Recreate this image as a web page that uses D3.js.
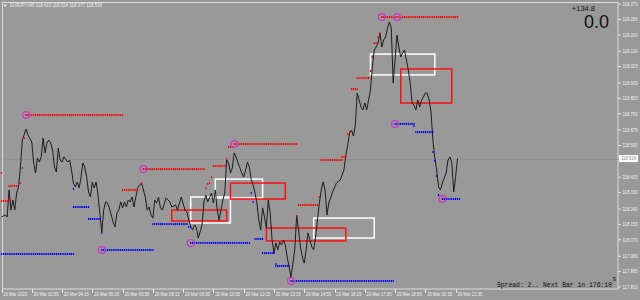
<!doctype html>
<html lang="en">
<head>
<meta charset="utf-8">
<title>EURJPY,M5</title>
<style>
body { margin: 0; background: #999999; }
svg { display: block; }
.lbl { font-family: "Liberation Sans", Arial, sans-serif; font-size: 5px; fill: #f2f2f2; }
.info { font-family: "Liberation Sans", Arial, sans-serif; fill: #111; }
.mono { font-family: "Liberation Mono", "Courier New", monospace; font-size: 6.4px; fill: #111; }
</style>
<script src="https://d3js.org/d3.v7.min.js"></script>
</head>
<body>
<div class="chart"></div>
<script>

// M5 bars counted from 20 Mar 01:35, closes
const bars = [0,2,3,4,5,6,7,8,9,10,11,13,14,16,17,18,19,20,21,22,23,24,25,26,27,28,29,30,31,32,33,35,36,37,38,39,40,41,42,43,44,45,46,47,48,49,50,51,
  53,54,55,56,57,58,59,60,61,62,63,64,65,66,67,68,69,70,71,72,73,74,76,77,78,79,80,81,82,83,84,85,87,89,90,92,93,95,97,98,
  100,101,102,103,104,106,107,108,109,111,112,113,114,115,116,117,118,119,120,121,122,123,124,125,126,127,128,129,130,131,132,133,134,135,136,137,138,139,140,
  141,142,143,144,145,146,147,148,149,150,151,152,153,154,155,156,157,158,159,160,161,162,163,164,165,166,167,168,169,170,171,172,173,175,177,179,180,
  181,182,183,184,185,186,187,188,189,190,191,192,193,194,195,196,197,198,199,200,201,202,203,204,205,206,207,208,209,210,211,212,213,214,215,216,217,218,219,220,
  221,222,223,224,225,226,227,228,229,230,231,232,233,234,235,236,237,238,239,240,241];
const closes = [118.196,118.207,118.196,118.345,118.234,118.290,118.234,118.328,118.361,118.471,118.620,118.681,118.648,118.609,118.494,118.438,118.521,118.499,118.527,118.631,118.549,118.604,118.620,118.604,118.565,118.471,118.444,118.576,118.510,118.499,118.527,118.499,118.510,118.455,118.383,118.361,118.389,118.356,118.411,118.494,118.471,118.416,118.334,118.306,118.389,118.356,118.389,118.317,
  118.113,118.234,118.279,118.273,118.246,118.207,118.168,118.141,118.218,118.234,118.279,118.246,118.279,118.251,118.290,118.279,118.306,118.251,118.306,118.356,118.372,118.383,118.306,118.234,118.251,118.207,118.190,118.290,118.273,118.306,118.246,118.234,118.301,118.279,118.251,118.262,118.234,118.306,118.234,118.223,
  118.141,118.124,118.152,118.135,118.080,118.152,118.279,118.317,118.279,118.328,118.273,118.345,118.234,118.179,118.234,118.290,118.328,118.510,118.494,118.438,118.466,118.549,118.527,118.494,118.466,118.438,118.416,118.455,118.499,118.471,118.400,118.372,118.328,118.273,118.179,118.124,118.246,118.196,118.135,
  118.290,118.218,118.069,117.997,118.053,118.014,118.058,118.042,118.069,118.042,117.975,117.920,117.865,117.942,118.014,118.207,118.124,118.031,117.975,117.942,118.014,118.108,118.069,118.031,118.014,118.086,118.179,118.273,118.345,118.389,118.345,118.207,118.273,118.334,118.383,118.400,118.427,
  118.455,118.538,118.593,118.659,118.675,118.642,118.703,118.879,118.841,118.802,118.786,118.824,118.786,118.841,118.896,119.023,119.116,119.133,119.155,119.210,119.133,119.172,119.188,119.238,119.271,119.238,118.935,119.061,119.199,119.133,119.078,119.100,119.116,119.061,119.006,118.935,118.824,118.813,118.786,118.841,
  118.802,118.841,118.857,118.879,118.879,118.841,118.775,118.620,118.521,118.455,118.361,118.345,118.383,118.411,118.438,118.510,118.527,118.494,118.334,118.416,118.518];

const timeLabels = ["20 Mar 2020","20 Mar 02:55","20 Mar 04:15","20 Mar 05:35","20 Mar 06:55","20 Mar 08:15","20 Mar 09:35","20 Mar 10:55",
  "20 Mar 12:15","20 Mar 13:35","20 Mar 14:55","20 Mar 16:15","20 Mar 17:35","20 Mar 18:55","20 Mar 20:15","20 Mar 21:35"];
const labelBars = [0,16,32,48,64,80,96,112,128,144,160,176,192,208,224,240];

const priceTicks = [119.370,119.285,119.200,119.110,119.025,118.935,118.850,118.765,118.675,118.590,
  118.415,118.330,118.240,118.155,118.070,117.980,117.895,117.810];
const bid = 118.518;

// [first bar, last bar, price]
const resistLines = [[13,64,118.758],[75,107,118.460],[123,156,118.598],[201,241,119.298]];
const supportLines = [[0,38,117.992],[53,80,118.014],[100,131,118.053],[153,207,117.843],[208,218,118.709],[233,242,118.295]];
// [bar, price]
const circles = [[13,118.758],[75,118.460],[123,118.598],[201,119.298],[209,119.298],
  [53,118.014],[100,118.053],[153,117.843],[208,118.709],[233,118.295]];

// short level marks
const redMarks = [[0,0,118.438],[0,4,118.284],[4,4,118.295],[4,8,118.367],[10,10,118.383],[11,11,118.466],[12,12,118.631],
  [64,72,118.345],[74,74,118.383],[108,108,118.356],[109,109,118.378],[110,110,118.383],[111,111,118.416],
  [112,118,118.477],[119,119,118.516],[120,122,118.582],[156,156,118.201],[157,167,118.262],[168,168,118.306],
  [169,180,118.510],[180,182,118.527],[183,183,118.653],[184,184,118.664],[185,188,118.901],[188,194,118.962],
  [195,195,119.001],[196,196,119.078],[197,198,119.155],[199,199,119.188],[200,200,119.210]];
const blueMarks = [[38,38,118.350],[38,46,118.251],[46,52,118.185],[53,53,118.108],[80,98,118.157],[99,100,118.141],
  [132,132,118.328],[133,133,118.279],[134,138,118.075],[138,144,117.997],[145,145,117.937],[145,152,117.926],
  [218,218,118.697],[219,228,118.664],[228,228,118.554],[229,229,118.505],[230,230,118.422],[231,231,118.317]];

// zones: [first bar, last bar, top price, bottom price]
const whiteZones = [[100,121,118.306,118.163],[113,138,118.405,118.301],[165,197,118.190,118.080],[195,229,119.094,118.979]];
const redZones = [[90,119,118.234,118.174],[121,150,118.383,118.295],[140,182,118.135,118.064],[211,238,119.012,118.824]];

const W = 640, H = 300;
const svg = d3.select(".chart").append("svg").attr("width", W).attr("height", H);

const x = d3.scaleLinear().domain([0, 240]).range([1.5, 455.6]);
const y = d3.scaleLinear().domain([117.810, 119.370]).range([287, 4]);

// frame
svg.append("rect").attr("x", 2.5).attr("y", 2.5).attr("width", 615.5).attr("height", 286.5)
  .attr("fill", "none").attr("stroke", "#dcdcdc");

// bid line
svg.append("line").attr("x1", 3).attr("x2", 618).attr("y1", Math.round(y(bid)) + 0.5).attr("y2", Math.round(y(bid)) + 0.5)
  .attr("stroke", "#8b929a");

// zones
function zones(data, color) {
  svg.append("g").selectAll("rect").data(data).enter().append("rect")
    .attr("x", d => x(d[0])).attr("y", d => y(d[2]))
    .attr("width", d => x(d[1]) - x(d[0])).attr("height", d => y(d[3]) - y(d[2]))
    .attr("fill", "none").attr("stroke", color).attr("stroke-width", 1.5);
}
zones(whiteZones, "#ffffff");
zones(redZones, "#ff1010");

// price line
let series = bars.map((b, i) => ({b: b, p: closes[i]}));
svg.append("path").datum(series)
  .attr("d", d3.line().x(d => x(d.b)).y(d => y(d.p)))
  .attr("fill", "none").attr("stroke", "#1c1c1c").attr("stroke-width", 1);

// dotted levels, one dot per bar
function dots(data, color) {
  let pts = [];
  data.forEach(s => d3.range(s[0], s[1] + 1).forEach(b => pts.push([b, s[2]])));
  svg.append("g").selectAll("rect").data(pts).enter().append("rect")
    .attr("x", d => x(d[0]) - 0.6).attr("y", d => y(d[1]) - 1)
    .attr("width", 1.2).attr("height", 2).attr("fill", color);
}
dots(resistLines, "#ff0000");
dots(redMarks, "#ff0000");
dots(supportLines, "#0000ff");
dots(blueMarks, "#0000ff");

svg.append("g").selectAll("circle").data(circles).enter().append("circle")
  .attr("cx", d => x(d[0])).attr("cy", d => y(d[1])).attr("r", 3.4)
  .attr("fill", "none").attr("stroke", "#cc33cc").attr("stroke-width", 1.2);

// time axis
let tg = svg.append("g").selectAll("g").data(labelBars).enter().append("g");
tg.append("line").attr("x1", d => Math.round(x(d)) + 0.5).attr("x2", d => Math.round(x(d)) + 0.5)
  .attr("y1", 289).attr("y2", 293).attr("stroke", "#e6e6e6");
tg.append("text").attr("class", "lbl").attr("x", d => x(d) + 1.8).attr("y", 296)
  .attr("textLength", (d, i) => i === 0 ? 24 : 25).attr("lengthAdjust", "spacingAndGlyphs")
  .text((d, i) => timeLabels[i]);

// price axis
let pg = svg.append("g").selectAll("g").data(priceTicks).enter().append("g");
pg.append("line").attr("x1", 618).attr("x2", 621).attr("y1", d => y(d)).attr("y2", d => y(d)).attr("stroke", "#e6e6e6");
pg.append("text").attr("class", "lbl").attr("x", 622.5).attr("y", d => y(d)).attr("dy", "0.35em")
  .attr("textLength", 15).attr("lengthAdjust", "spacingAndGlyphs")
  .text(d => d.toFixed(3));

svg.append("rect").attr("x", 619).attr("y", y(bid) - 3.5).attr("width", 19).attr("height", 7).attr("fill", "#ffffff");
svg.append("text").attr("class", "lbl").attr("x", 621).attr("y", y(bid)).attr("dy", "0.35em")
  .attr("textLength", 15).attr("lengthAdjust", "spacingAndGlyphs")
  .style("fill", "#8a8a8a").text(bid.toFixed(3));

// header
svg.append("path").attr("d", "M3.5,4.5 L7,4.5 L5.25,7 Z").attr("fill", "#f2f2f2");
svg.append("text").attr("class", "lbl").attr("x", 10).attr("y", 7.3)
  .attr("textLength", 92).attr("lengthAdjust", "spacingAndGlyphs")
  .text("EURJPY,M5  118.410 118.524 118.377 118.518");

svg.append("text").attr("class", "info").attr("x", 595).attr("y", 11).attr("text-anchor", "end")
  .attr("font-size", 7.5).text("+134.8");
svg.append("text").attr("class", "info").attr("x", 609).attr("y", 28).attr("text-anchor", "end")
  .attr("font-size", 18).text("0.0");

svg.append("text").attr("class", "mono").attr("x", 612).attr("y", 287).attr("text-anchor", "end")
  .text("Spread: 2.. Next Bar in 176:10");
svg.append("text").attr("class", "mono").attr("x", 612.5).attr("y", 281).attr("font-size", 3.5).text("s");

</script>
</body>
</html>
